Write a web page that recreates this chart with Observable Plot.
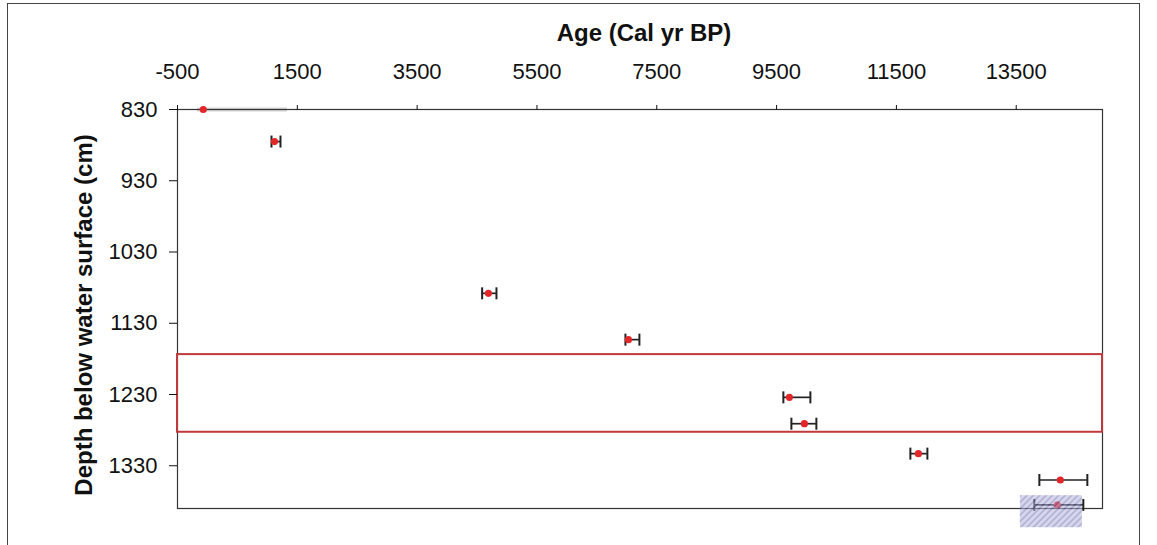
<!DOCTYPE html>
<html>
<head>
<meta charset="utf-8">
<script src="https://cdn.jsdelivr.net/npm/d3@7"></script>
<script src="https://cdn.jsdelivr.net/npm/@observablehq/plot@0.6"></script>
<style>
  html, body { margin: 0; padding: 0; background: #fff; }
  #wrap { position: relative; width: 1157px; height: 545px; overflow: hidden; background: #fff; }
  #border { position: absolute; left: 7px; top: 3px; width: 1133px; height: 600px; border: 1px solid #444; box-sizing: border-box; pointer-events: none; }
  #chart { position: absolute; left: 0; top: 0; }
</style>
</head>
<body>
<div id="wrap"><div id="chart"></div><div id="border"></div></div>
<script>
// ---- data ----
const xTitle = ["Age (Cal yr BP)"];
const yTitle = ["Depth below water surface (cm)"];
const xTicks = [-500, 1500, 3500, 5500, 7500, 9500, 11500, 13500];
const yTicks = [830, 930, 1030, 1130, 1230, 1330];

const ages   = [-70, 1119, 4690, 7027, 9714, 9964, 11867, 14236, 14186];
const depths = [830, 875, 1088, 1153, 1234, 1271, 1313, 1350, 1385];
const ageLo  = [null, 1069, 4585, 6977, 9613, 9747, 11733, 13886, 13802];
const ageHi  = [null, 1219, 4824, 7210, 10064, 10164, 12017, 14687, 14620];

// light grey band next to the top sample
const greyBandX = [-166, 1336];
const greyBandY = [830];

// highlighted depth interval (red box)
const boxDepth = [1174, 1283];
const boxAge = [-500, 14940];

// hatched block at the bottom sample
const hatchAge = [13569, 14604];
const hatchDepth = [1372, 1417];

const samples = ages.map((a, i) => ({age: a, depth: depths[i], lo: ageLo[i], hi: ageHi[i], idx: i}));
const bars = samples.filter(d => d.lo != null);

const vbar = {
  draw(ctx, size) {
    const h = Math.sqrt(size / Math.PI);
    ctx.moveTo(0, -h);
    ctx.lineTo(0, h);
  }
};

const chart = Plot.plot({
  width: 1157,
  height: 545,
  marginLeft: 177,
  marginRight: 55,
  marginTop: 109,
  marginBottom: 37,
  style: {fontFamily: "'Liberation Sans', Arial, Helvetica, sans-serif", fontSize: "22px", background: "transparent", color: "#111"},
  x: {domain: boxAge, ticks: xTicks},
  y: {domain: [830, 1390], reverse: true},
  marks: [
    Plot.ruleY(greyBandY, {x1: greyBandX[0], x2: greyBandX[1], y: d => d, stroke: "#d4d4d4", strokeWidth: 4}),
    Plot.frame({stroke: "#333", strokeWidth: 1.2}),
    Plot.rect([{a1: boxAge[0], a2: boxAge[1], d1: boxDepth[0], d2: boxDepth[1]}], {x1: "a1", x2: "a2", y1: "d1", y2: "d2", fill: "none", stroke: "#c0393b", strokeWidth: 2}),
    Plot.axisX({anchor: "top", ticks: xTicks, tickSize: 5, tickPadding: 26, label: null, fontSize: 22, tickFormat: d => String(d)}),
    Plot.axisY({anchor: "left", ticks: yTicks, tickSize: 8, tickPadding: 12, label: null, fontSize: 22, tickFormat: d => String(d)}),
    Plot.ruleY(bars, {x1: "lo", x2: "hi", y: "depth", stroke: "#222", strokeWidth: 1.7}),
    Plot.dot(bars, {x: "lo", y: "depth", symbol: vbar, r: 6, stroke: "#222", strokeWidth: 2, fill: "none"}),
    Plot.dot(bars, {x: "hi", y: "depth", symbol: vbar, r: 6, stroke: "#222", strokeWidth: 2, fill: "none"}),
    Plot.dot(samples, {x: "age", y: "depth", r: 3.6, fill: "#e3262a", stroke: "none"}),
    Plot.rect([{a1: hatchAge[0], a2: hatchAge[1], d1: hatchDepth[0], d2: hatchDepth[1]}], {x1: "a1", x2: "a2", y1: "d1", y2: "d2", fill: "url(#hatch)", fillOpacity: 0.55}),
    Plot.text(xTitle, {frameAnchor: "top", dx: 4, dy: -69, lineAnchor: "bottom", fontWeight: "bold", fontSize: 24, fill: "#111"}),
    Plot.text(yTitle, {frameAnchor: "left", textAnchor: "middle", dx: -93, dy: 6, rotate: -90, fontWeight: "bold", fontSize: 24, fill: "#111"})
  ]
});

const svg = d3.select(chart);
const defs = svg.insert("defs", ":first-child");
const pat = defs.append("pattern")
  .attr("id", "hatch")
  .attr("patternUnits", "userSpaceOnUse")
  .attr("width", 4.5).attr("height", 4.5)
  .attr("patternTransform", "rotate(45)");
pat.append("rect").attr("width", 4.5).attr("height", 4.5).attr("fill", "#b4b4dc");
pat.append("line").attr("x1", 1).attr("y1", 0).attr("x2", 1).attr("y2", 4.5)
  .attr("stroke", "#6464aa").attr("stroke-width", 1.4);

document.getElementById("chart").appendChild(chart);
</script>
</body>
</html>
